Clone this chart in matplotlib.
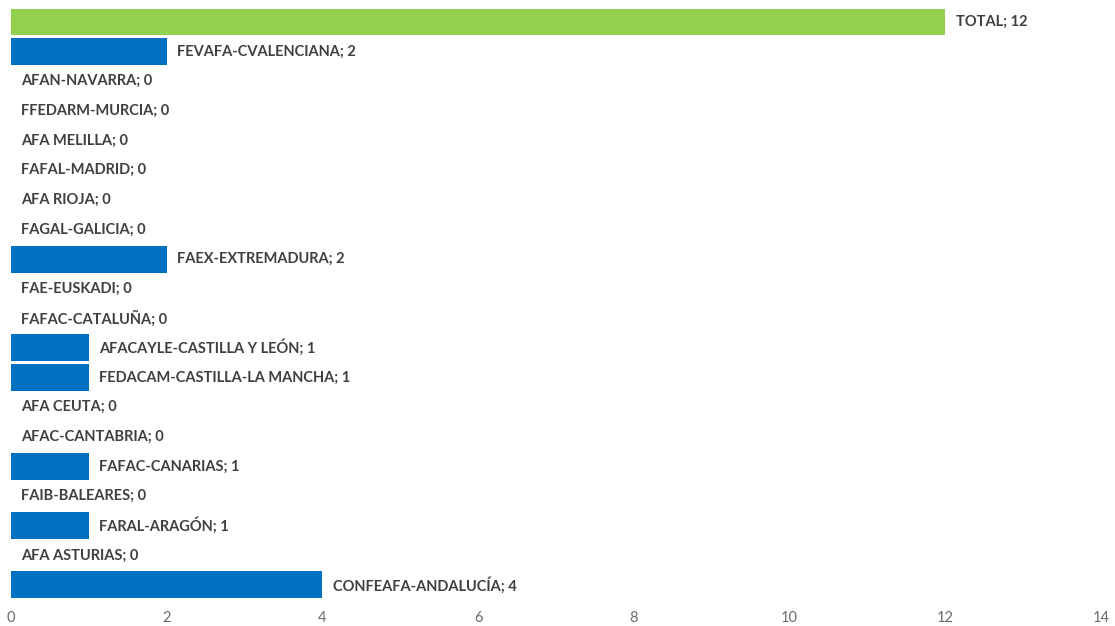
import matplotlib
matplotlib.use("Agg")
import matplotlib.pyplot as plt

categories = [
    "TOTAL", "FEVAFA-CVALENCIANA", "AFAN-NAVARRA", "FFEDARM-MURCIA", "AFA MELILLA",
    "FAFAL-MADRID", "AFA RIOJA", "FAGAL-GALICIA", "FAEX-EXTREMADURA", "FAE-EUSKADI",
    "FAFAC-CATALUÑA", "AFACAYLE-CASTILLA Y LEÓN", "FEDACAM-CASTILLA-LA MANCHA",
    "AFA CEUTA", "AFAC-CANTABRIA", "FAFAC-CANARIAS", "FAIB-BALEARES", "FARAL-ARAGÓN",
    "AFA ASTURIAS", "CONFEAFA-ANDALUCÍA",
]
values = [12, 2, 0, 0, 0, 0, 0, 0, 2, 0, 0, 1, 1, 0, 0, 1, 0, 1, 0, 4]
xticks = [0, 2, 4, 6, 8, 10, 12, 14]

GREEN = "#92D050"
BLUE = "#0070C0"

fig = plt.figure(figsize=(11.15, 6.26), dpi=100)
ax = fig.add_axes([0.00987, 0.0419, 0.9775, 0.9466])

n = len(categories)
ypos = list(range(n))
colors = [GREEN if c == "TOTAL" else BLUE for c in categories]
ax.barh(ypos, values, height=0.91, color=colors)

for y, c, v in zip(ypos, categories, values):
    ax.annotate(f"{c}; {v}", xy=(v, y), xytext=(7.5, 0), textcoords="offset points",
                ha="left", va="center", fontsize=10.5, fontweight="bold",
                family=["Lato", "DejaVu Sans"], color="#404040")

ax.set_ylim(n - 0.5, -0.5)
ax.set_xlim(0, 14)
ax.set_xticks(xticks)
ax.set_xticklabels([str(t) for t in xticks], fontsize=10.5, color="#6b6b6b",
                   family=["Lato", "DejaVu Sans"])
ax.tick_params(axis="x", length=0, pad=8)
ax.set_yticks([])
for s in ax.spines.values():
    s.set_visible(False)

fig.savefig("out.png", dpi=100, facecolor="white")
